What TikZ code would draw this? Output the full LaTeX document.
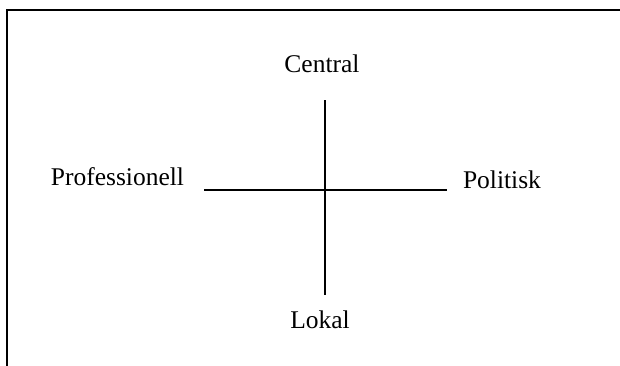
\documentclass[tikz,border=0pt]{standalone}
\usepackage{fontspec}
\setmainfont{Liberation Serif}
\begin{document}
\begin{tikzpicture}[x=1pt,y=1pt,
  lbl/.style={anchor=base,inner sep=0pt,font=\fontsize{25.5}{30}\selectfont},
  axis/.style={line width=1.7pt,black},
  frame/.style={line width=1.5pt,black}]
\useasboundingbox (0,0) rectangle (620,365);
\clip (0,0) rectangle (620,365);
\fill[white] (0,0) rectangle (620,365);
\draw[frame] (7,-20) rectangle (660,355);
\node[lbl] (central) at (322,293) {Central};
\node[lbl] (lokal) at (320,37) {Lokal};
\node[lbl] (prof) at (117.5,180) {Professionell};
\node[lbl] (pol) at (502,177) {Politisk};
\coordinate (top) at (325,265);
\coordinate (bot) at (325,70);
\coordinate (left) at (204,175);
\coordinate (right) at (447,175);
\draw[axis] (top) -- (bot);
\draw[axis] (left) -- (right);
\end{tikzpicture}
\end{document}
